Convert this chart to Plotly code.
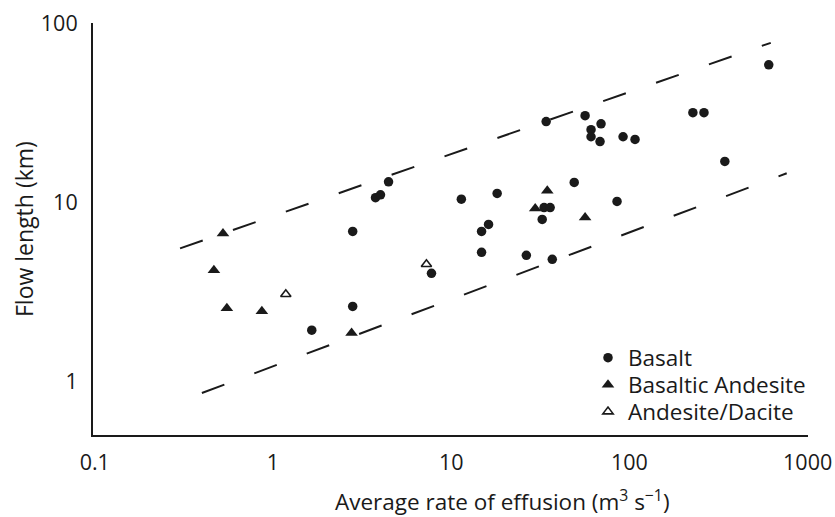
import plotly.graph_objects as go

# Basalt
basalt_x = [2.80, 2.80, 1.65, 3.76, 4.01, 4.45, 7.75, 11.4, 18.1, 49.0, 33.2, 35.9, 32.4,
            85.2, 16.2, 14.8, 14.8, 26.4, 36.9, 34.1, 56.4, 69.3, 60.9, 60.9, 68.4, 92.1,
            107.5, 227, 262, 343, 605]
basalt_y = [6.87, 2.62, 1.93, 10.6, 11.0, 13.0, 4.01, 10.4, 11.2, 12.9, 9.34, 9.34, 8.01,
            10.1, 7.51, 6.87, 5.25, 5.05, 4.80, 28.2, 30.4, 27.4, 25.4, 23.2, 21.8, 23.2,
            22.4, 31.6, 31.6, 16.9, 58.5]

# Basaltic Andesite
ba_x = [0.524, 0.466, 0.551, 0.866, 2.76, 34.6, 29.6, 56.4]
ba_y = [6.69, 4.17, 2.56, 2.46, 1.86, 11.6, 9.22, 8.22]

# Andesite/Dacite
ad_x = [1.18, 7.26]
ad_y = [3.06, 4.50]

# Envelope lines
upper_x = [0.301, 621]
upper_y = [5.52, 77.6]
lower_x = [0.399, 763]
lower_y = [0.86, 14.5]

tick_vals_x = [0.1, 1, 10, 100, 1000]
tick_text_x = ["0.1", "1", "10", "100", "1000"]
tick_vals_y = [1, 10, 100]
tick_text_y = ["1", "10", "100"]

FONT = "Open Sans"
INK = "#1a1a1a"

W, H = 835, 517
PL, PT, PW, PH = 93, 23, 715, 412  # plot area in screen pixels


def px(xs):
    return (xs - PL) / PW


def py(ys):
    return (PT + PH - ys) / PH


fig = go.Figure()

for lx, ly in [(upper_x, upper_y), (lower_x, lower_y)]:
    fig.add_trace(go.Scatter(x=lx, y=ly, mode="lines", showlegend=False, hoverinfo="skip",
                             line=dict(color=INK, width=2, dash="24px,32px")))

fig.add_trace(go.Scatter(x=basalt_x, y=basalt_y, mode="markers", name="Basalt", legend="legend",
                         marker=dict(symbol="circle", size=9.5, color=INK)))
fig.add_trace(go.Scatter(x=ba_x, y=ba_y, mode="markers", name="Basaltic Andesite", legend="legend2",
                         marker=dict(symbol="triangle-up", size=11, color=INK)))
fig.add_trace(go.Scatter(x=ad_x, y=ad_y, mode="markers", name="Andesite/Dacite", legend="legend3",
                         marker=dict(symbol="triangle-up-open", size=9, color=INK,
                                     line=dict(width=1.6, color=INK))))

LEG_FONT = dict(size=22.5, family=FONT, color=INK)
leg_common = dict(xanchor="left", yanchor="middle", bgcolor="rgba(0,0,0,0)",
                  font=LEG_FONT, itemwidth=30, x=px(588))

fig.update_layout(
    width=W, height=H,
    margin=dict(l=PL, r=W - PL - PW, t=PT, b=H - PT - PH),
    paper_bgcolor="white", plot_bgcolor="white",
    font=dict(family=FONT, size=22, color=INK),
    legend=dict(y=py(358), **leg_common),
    legend2=dict(y=py(385), **leg_common),
    legend3=dict(y=py(412), **leg_common),
    annotations=[
        dict(text="Average rate of effusion (m<sup>3</sup> s<sup>−1</sup>)", xref="paper", yref="paper",
             x=px(502), y=py(501), xanchor="center", yanchor="middle",
             showarrow=False, font=dict(size=22.5, family=FONT, color=INK)),
        dict(text="Flow length (km)", xref="paper", yref="paper",
             x=px(24), y=py(229), xanchor="center", yanchor="middle", textangle=-90,
             showarrow=False, font=dict(size=23, family=FONT, color=INK)),
    ],
)
fig.update_xaxes(type="log", range=[-1.01, 3.002], showline=True, linewidth=2, linecolor=INK,
                 showgrid=False, zeroline=False, tickvals=tick_vals_x, ticktext=tick_text_x,
                 ticks="", ticklabelstandoff=7, automargin=False, ticklabeloverflow="allow",
                 tickfont=dict(size=21.5, family=FONT, color=INK))
fig.update_yaxes(type="log", range=[-0.2997, 2.0005], showline=True, linewidth=2, linecolor=INK,
                 showgrid=False, zeroline=False, tickvals=tick_vals_y, ticktext=tick_text_y,
                 ticks="", ticklabelstandoff=9, automargin=False, ticklabeloverflow="allow",
                 tickfont=dict(size=21.5, family=FONT, color=INK))

fig.write_html("out.html", config={"displayModeBar": False},
               post_script="document.body.style.margin='0px';document.body.style.overflow='hidden';")
